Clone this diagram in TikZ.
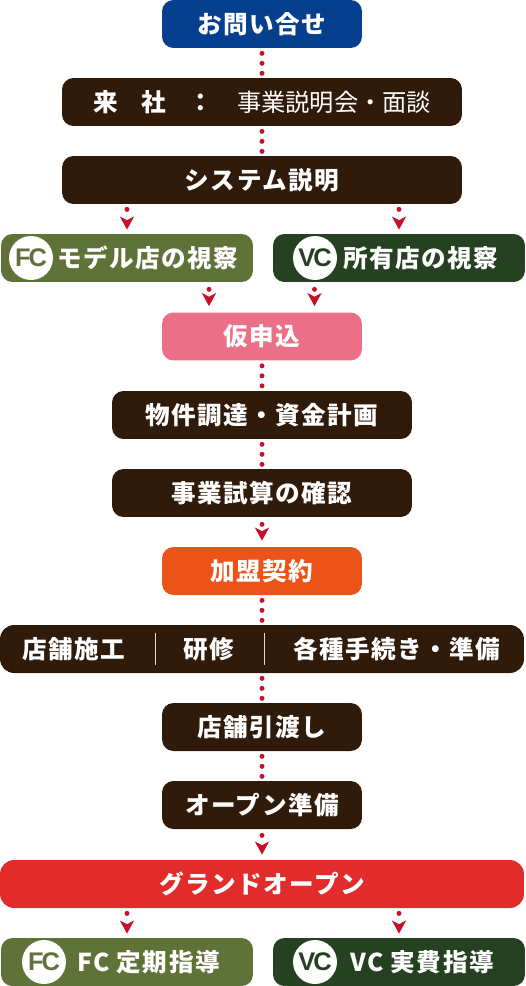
\documentclass[tikz,border=0pt]{standalone}
\usepackage{fontspec}
\setmainfont{Noto Sans CJK JP}[LetterSpace=6]
\newfontfamily\talkfont{Noto Sans CJK JP}
\newfontfamily\latinfont{Liberation Sans}
\usetikzlibrary{arrows.meta,positioning,calc}
\definecolor{deepnavy}{HTML}{053F8E}
\definecolor{deepbrown}{HTML}{301B0A}
\definecolor{fcgreen}{HTML}{5F7339}
\definecolor{vcgreen}{HTML}{264022}
\definecolor{midpink}{HTML}{EB7087}
\definecolor{midorange}{HTML}{EB5318}
\definecolor{midred}{HTML}{E22B2B}
\definecolor{linkred}{HTML}{C4122B}

\begin{document}
\begin{tikzpicture}[
    x=0.02cm, y=-0.02cm,
    stepbox/.style={
      fill=#1, rounded corners=6.5pt, minimum height=0.96cm, inner sep=0pt,
      text=white, font=\fontsize{14}{15}\selectfont\bfseries, text centered,
      text height=12.3pt, text depth=1.7pt
    },
    steplabel/.style={
      text=white, inner sep=0pt, font=\fontsize{14}{15}\selectfont\bfseries,
      text height=12.3pt, text depth=1.7pt
    },
    badge/.style={
      circle, fill=white, minimum size=0.88cm, inner sep=0pt, text=#1,
      font=\latinfont\fontsize{14.5}{15}\selectfont\bfseries
    },
    dotted link/.style={
      draw=linkred, line width=0.1cm, line cap=round,
      dash pattern=on 0pt off 0.2cm, dash phase=0.1cm
    },
    tip link/.style={
      draw=linkred, line width=0.1cm, line cap=round,
      dash pattern=on 0pt off 2cm, dash phase=2cm-(#1+1)*0.02cm,
      shorten >=#1*0.02cm,
      -{Stealth[length=0.26cm,width=0.28cm,inset=0.07cm,line cap=butt]}
    },
  ]
  \useasboundingbox (0,0) rectangle (525,986);

  % =================== Top ===================
  \node[stepbox=deepnavy, minimum width=4cm] (inquiry) at (262,24) {お問い合せ};
  \node[stepbox=deepbrown, minimum width=8cm] (visit) at (262,102) {};
  \node[steplabel] (visita) at (106,102) {来};
  \node[steplabel] (visitb) at (154,102) {社};
  \node[steplabel] (visitc) at (201,102) {：};
  \node[steplabel, font=\talkfont\fontsize{13.8}{15}\selectfont] (visittalk) at (334,102) {事業説明会・面談};
  \node[stepbox=deepbrown, minimum width=8cm] (system) at (262,180) {システム説明};

  % =================== Store visits ===================
  \node[stepbox=fcgreen, minimum width=5.04cm] (fcvisit) at (127,258) {};
  \node[badge=fcgreen] (fcbadge) at (31,258) {F\kern-1.2pt C};
  \node[steplabel] (fcvisitlabel) at (148,258) {モデル店の視察};
  \node[stepbox=vcgreen, minimum width=5.04cm] (vcvisit) at (399,258) {};
  \node[badge=vcgreen] (vcbadge) at (315,258) {V\kern-1.2pt C};
  \node[steplabel] (vcvisitlabel) at (421,258) {所有店の視察};

  % =================== Middle ===================
  \node[stepbox=midpink, minimum width=4cm] (apply) at (262,336.5) {仮申込};
  \node[stepbox=deepbrown, minimum width=6cm] (site) at (262,415) {物件調達・資金計画};
  \node[stepbox=deepbrown, minimum width=6cm] (trial) at (262,493) {事業試算の確認};
  \node[stepbox=midorange, minimum width=4cm] (contract) at (262,571) {加盟契約};

  % =================== Preparation ===================
  \node[stepbox=deepbrown, minimum width=10.48cm, rounded corners=8pt] (prep) at (262,649) {};
  \node[steplabel] (prepa) at (73.5,649) {店舗施工};
  \node[steplabel] (prepb) at (209,649) {研修};
  \node[steplabel] (prepc) at (397,649) {各種手続き・準備};
  \draw[white!85!black, line width=0.9pt] (155.7,633) -- (155.7,665);
  \draw[white!85!black, line width=0.9pt] (264.5,633) -- (264.5,665);

  \node[stepbox=deepbrown, minimum width=4cm] (handover) at (262,727) {店舗引渡し};
  \node[stepbox=deepbrown, minimum width=4cm] (openprep) at (262,805) {オープン準備};
  \node[stepbox=midred, minimum width=10.48cm, rounded corners=8pt] (grand) at (262,884) {グランドオープン};

  % =================== Guidance ===================
  \node[stepbox=fcgreen, minimum width=5.04cm] (fcguide) at (127,962) {};
  \node[badge=fcgreen] (fcbadgeb) at (44,962) {F\kern-1.2pt C};
  \node[steplabel] (fcguidelabel) at (148.5,962) {FC 定期指導};
  \node[stepbox=vcgreen, minimum width=5.04cm] (vcguide) at (399,962) {};
  \node[badge=vcgreen] (vcbadgeb) at (315,962) {V\kern-1.2pt C};
  \node[steplabel] (vcguidelabel) at (422,962) {VC 実費指導};

  % =================== Links ===================
  \draw[dotted link] (inquiry) -- (visit);
  \draw[dotted link] (visit) -- (system);
  \draw[dotted link] (apply) -- (site);
  \draw[dotted link] (site) -- (trial);
  \draw[dotted link] (contract) -- (prep);
  \draw[dotted link] (prep) -- (handover);
  \draw[dotted link] (handover) -- (openprep);

  \coordinate (fcdrop) at (209,300);
  \coordinate (vcdrop) at (314.5,300);
  \draw[tip link=4] (system.south -| fcvisit.north) -- (fcvisit.north);
  \draw[tip link=4] (system.south -| vcvisit.north) -- (vcvisit.north);
  \draw[tip link=6] (fcvisit.south -| fcdrop) -- (apply.north -| fcdrop);
  \draw[tip link=6] (vcvisit.south -| vcdrop) -- (apply.north -| vcdrop);
  \draw[tip link=6] (trial) -- (contract);
  \draw[tip link=5] (openprep) -- (grand);
  \draw[tip link=4] (grand.south -| fcguide.north) -- (fcguide.north);
  \draw[tip link=4] (grand.south -| vcguide.north) -- (vcguide.north);

\end{tikzpicture}
\end{document}
